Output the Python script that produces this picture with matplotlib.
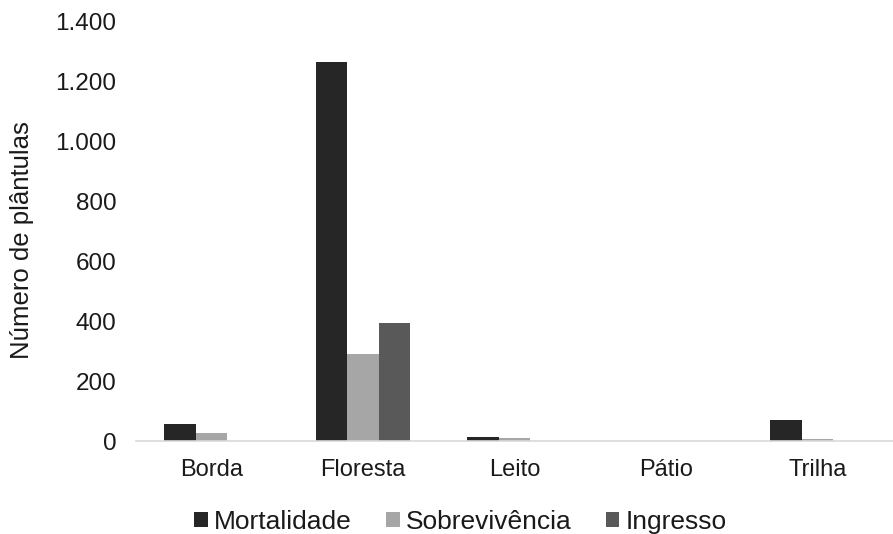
import numpy as np
import matplotlib.pyplot as plt
from matplotlib.ticker import FuncFormatter

plt.rcParams['font.family'] = ['Liberation Sans', 'DejaVu Sans']

categorias = ['Borda', 'Floresta', 'Leito', 'Pátio', 'Trilha']
mortalidade = [58, 1266, 12, 0, 69]
sobrevivencia = [26, 291, 10, 0, 6]
ingresso = [0, 394, 0, 0, 0]

series = [('Mortalidade', mortalidade, '#262626'),
          ('Sobrevivência', sobrevivencia, '#a6a6a6'),
          ('Ingresso', ingresso, '#595959')]

fig = plt.figure(figsize=(8.93, 5.34), dpi=100)
ax = fig.add_axes([0.152, 0.174, 0.848, 0.785])

x = np.arange(len(categorias))
w = 0.207
for i, (nome, vals, cor) in enumerate(series):
    ax.bar(x + (i - 1) * w, vals, w, color=cor, label=nome, edgecolor='none')

ax.set_xlim(-0.5, len(categorias) - 0.5)
ax.set_ylim(0, 1400)
ax.set_yticks(np.arange(0, 1401, 200))
ax.yaxis.set_major_formatter(FuncFormatter(lambda v, p: f'{int(v):,}'.replace(',', '.')))
ax.set_xticks(x)
ax.set_xticklabels(categorias)

for s in ['top', 'right', 'left']:
    ax.spines[s].set_visible(False)
ax.spines['bottom'].set_color('#d9d9d9')
ax.spines['bottom'].set_linewidth(1.2)
ax.tick_params(axis='both', length=0, colors='#1a1a1a')
ax.tick_params(axis='y', pad=14, labelsize=17.5)
ax.tick_params(axis='x', pad=13, labelsize=17)

ax.set_ylabel('Número de plântulas', fontsize=18.5, color='#1a1a1a')
ax.yaxis.set_label_coords(-0.135, 0.48)

leg = fig.legend(loc='lower center', bbox_to_anchor=(0.516, -0.045), ncol=3, frameon=False,
                 fontsize=19, handlelength=0.5, handleheight=0.5, handletextpad=0.25,
                 columnspacing=1.3)
for t in leg.get_texts():
    t.set_color('#1a1a1a')

fig.savefig('out.png', dpi=100)
